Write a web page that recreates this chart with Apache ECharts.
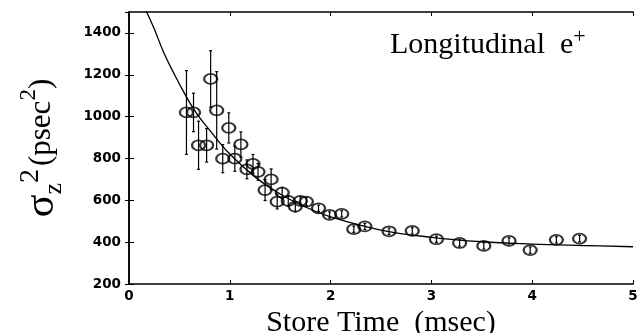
<!DOCTYPE html>
<html>
<head>
<meta charset="utf-8">
<script src="https://cdn.jsdelivr.net/npm/echarts@6/dist/echarts.min.js"></script>
<style>
  html, body { margin: 0; padding: 0; background: #fff; }
  #chart { width: 643px; height: 333px; }
</style>
</head>
<body>
<div id="chart"></div>
<script>
// measured points: store time (msec), sigma_z^2 (psec^2), error (+/-)
const storeTime = [0.57, 0.64, 0.69, 0.77, 0.81, 0.87, 0.93, 0.99, 1.05, 1.11,
  1.17, 1.23, 1.28, 1.35, 1.41, 1.47, 1.52, 1.58, 1.65, 1.70,
  1.76, 1.88, 1.99, 2.11, 2.23, 2.34, 2.58, 2.81, 3.05, 3.28,
  3.52, 3.77, 3.98, 4.24, 4.47];
const sigma2 = [1020, 1020, 863, 863, 1180, 1030, 799, 946, 799, 867,
  748, 774, 736, 649, 700, 594, 637, 597, 570, 597,
  594, 562, 530, 535, 462, 475, 452, 454, 414, 396,
  382, 406, 362, 411, 417];
const sigma2Err = [200, 92, 115, 80, 135, 185, 67, 72, 60, 60,
  45, 45, 40, 50, 50, 35, 25, 25, 25, 20,
  20, 15, 15, 15, 15, 15, 15, 15, 15, 15,
  15, 15, 15, 15, 15];

// fitted curve
const fitTime = [0.17, 0.25, 0.35, 0.5, 0.65, 0.8, 1.0, 1.25, 1.5, 1.75, 2.0, 2.5, 3.0, 3.5, 4.0, 4.5, 5.0];
const fitSigma2 = [1505, 1420, 1300, 1156, 1030, 935, 821, 712, 630, 568, 521, 458, 423, 402, 391, 384, 378];

const chart = echarts.init(document.getElementById('chart'));

const points = storeTime.map((t, i) => [t, sigma2[i]]);
const bars = storeTime.map((t, i) => [t, sigma2[i] - sigma2Err[i], sigma2[i] + sigma2Err[i]]);
const fit = fitTime.map((t, i) => [t, fitSigma2[i]]);

const tickFont = { fontFamily: 'DejaVu Sans', fontWeight: 'bold', fontSize: 13.5, color: '#000' };
const serif = 'Liberation Serif';

chart.setOption({
  animation: false,
  backgroundColor: '#fff',
  grid: { left: 129, right: 10, top: 12, bottom: 49, outerBoundsMode: 'none', containLabel: false },
  title: {
    text: 'Longitudinal  e{sup|+}',
    left: 385, top: 21,
    textStyle: {
      fontFamily: serif, fontSize: 30, fontWeight: 'normal', color: '#000',
      rich: { sup: { fontFamily: serif, fontSize: 22, verticalAlign: 'top', padding: [0, 0, 16, 0], color: '#000' } }
    }
  },
  xAxis: [{
    type: 'value', min: 0, max: 5, interval: 1,
    name: 'Store Time  (msec)', nameLocation: 'middle', nameGap: 19,
    nameTextStyle: { fontFamily: serif, fontSize: 30, color: '#000' },
    axisLine: { lineStyle: { color: '#000', width: 1.5 } },
    axisTick: { inside: true, length: 4, lineStyle: { color: '#000' } },
    axisLabel: Object.assign({ margin: 5 }, tickFont),
    splitLine: { show: false }
  }, {
    type: 'value', min: 0, max: 5, interval: 1, position: 'top',
    axisLine: { lineStyle: { color: '#000', width: 1.5 } },
    axisTick: { inside: true, length: 4, lineStyle: { color: '#000' } },
    axisLabel: { show: false }, splitLine: { show: false }
  }],
  yAxis: [{
    type: 'value', min: 200, max: 1500, interval: 200,
    name: 'σ{sub|z}{sup|2}{n|(psec}{sup2|2}{n|)}', nameLocation: 'middle', nameGap: 62,
    nameRotate: 90,
    nameTextStyle: {
      fontFamily: serif, fontSize: 42, color: '#000',
      rich: {
        sub: { fontFamily: serif, fontSize: 26, verticalAlign: 'bottom', padding: [18, 0, 0, 0], color: '#000' },
        sup: { fontFamily: serif, fontSize: 28, verticalAlign: 'top', padding: [0, 3, 22, 0], color: '#000' },
        sup2: { fontFamily: serif, fontSize: 23, verticalAlign: 'top', padding: [0, 0, 16, 0], color: '#000' },
        n: { fontFamily: serif, fontSize: 31, color: '#000' }
      }
    },
    axisLine: { lineStyle: { color: '#000', width: 1.5 } },
    axisTick: { inside: true, length: 5, lineStyle: { color: '#000' } },
    axisLabel: Object.assign({ margin: 8, showMaxLabel: false, formatter: v => String(v) }, tickFont),
    splitLine: { show: false }
  }, {
    type: 'value', min: 200, max: 1500, interval: 200, position: 'right',
    axisLine: { lineStyle: { color: '#000', width: 1.5 } },
    axisTick: { inside: true, length: 4, lineStyle: { color: '#000' } },
    axisLabel: { show: false }, splitLine: { show: false }
  }],
  series: [{
    type: 'line', data: fit, smooth: 0.4, showSymbol: false,
    lineStyle: { color: '#000', width: 1.3 }, clip: true, z: 2
  }, {
    type: 'custom', data: bars, encode: { x: 0, y: [1, 2] }, z: 3,
    renderItem: (params, api) => {
      const lo = api.coord([api.value(0), api.value(1)]);
      const hi = api.coord([api.value(0), api.value(2)]);
      const style = { stroke: '#000', lineWidth: 1.2 };
      return {
        type: 'group',
        children: [
          { type: 'line', shape: { x1: lo[0], y1: lo[1], x2: hi[0], y2: hi[1] }, style },
          { type: 'line', shape: { x1: lo[0] - 1.5, y1: lo[1], x2: lo[0] + 1.5, y2: lo[1] }, style },
          { type: 'line', shape: { x1: hi[0] - 1.5, y1: hi[1], x2: hi[0] + 1.5, y2: hi[1] }, style }
        ]
      };
    }
  }, {
    type: 'scatter', data: points, symbol: 'circle', symbolSize: [13, 10], z: 4,
    itemStyle: { color: 'rgba(255,255,255,0)', borderColor: '#000', borderWidth: 2 }
  }]
});
</script>
</body>
</html>
